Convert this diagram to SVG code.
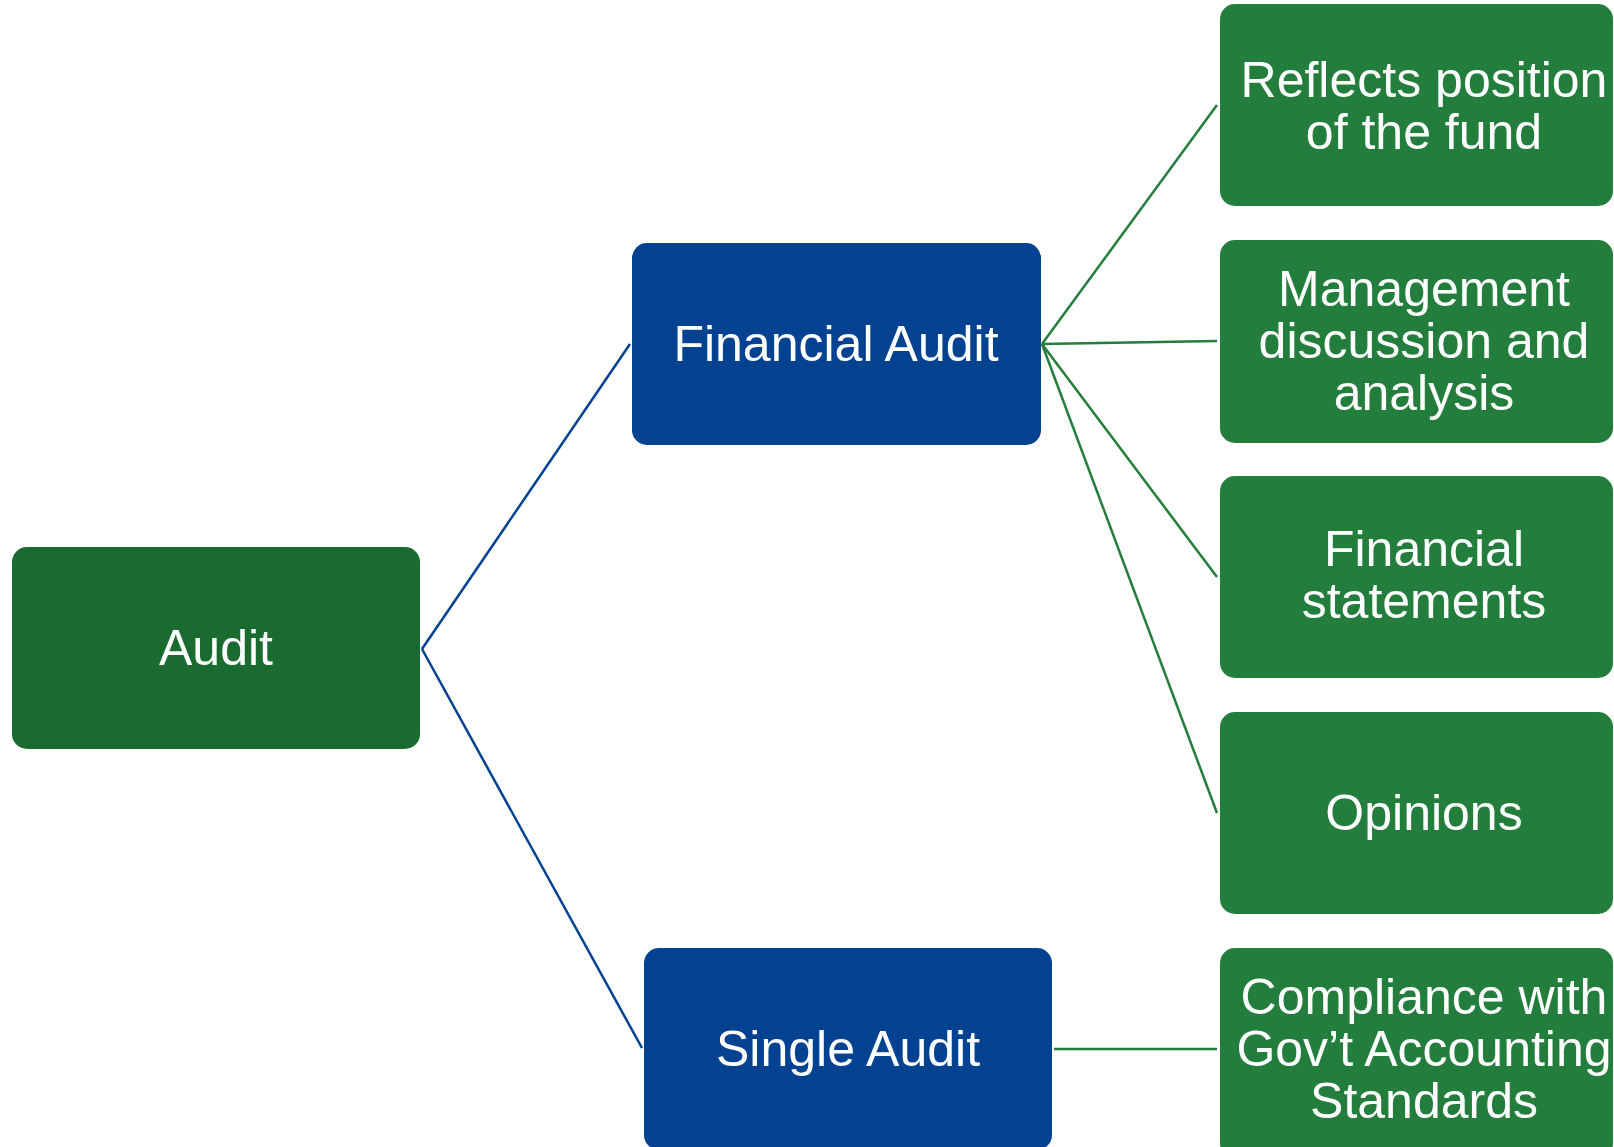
<svg xmlns="http://www.w3.org/2000/svg" width="1614" height="1147" viewBox="0 0 1614 1147">
<style>
.t{font-family:"Liberation Sans",Arial,sans-serif;font-size:50px;fill:#ffffff;text-anchor:middle}
.root{fill:#196b30}
.mid{fill:#034291}
.leaf{fill:#237d3c}
.cb{stroke:#034291;stroke-width:2.5;fill:none}
.cg{stroke:#237d3c;stroke-width:2.5;fill:none}
</style>
<rect width="1614" height="1147" fill="#ffffff"/>
<g id="connectors">
<line class="cb" x1="422" y1="649" x2="630" y2="344"/>
<line class="cb" x1="422" y1="649" x2="642" y2="1048"/>
<line class="cg" x1="1042" y1="344" x2="1217" y2="105"/>
<line class="cg" x1="1042" y1="344" x2="1217" y2="341"/>
<line class="cg" x1="1042" y1="344" x2="1217" y2="577"/>
<line class="cg" x1="1042" y1="344" x2="1217" y2="813"/>
<line class="cg" x1="1054" y1="1049" x2="1217" y2="1049"/>
</g>
<g id="audit">
<rect class="root" x="12" y="547" width="408" height="202" rx="15"/>
<text class="t" x="216" y="665">Audit</text>
</g>
<g id="financial-audit">
<rect class="mid" x="632" y="243" width="409" height="202" rx="15"/>
<text class="t" x="836" y="361">Financial Audit</text>
</g>
<g id="single-audit">
<rect class="mid" x="644" y="948" width="408" height="202" rx="15"/>
<text class="t" x="848" y="1066">Single Audit</text>
</g>
<g id="reflects-position">
<rect class="leaf" x="1220" y="4" width="393" height="202" rx="15"/>
<text class="t" x="1424" y="97">Reflects position</text>
<text class="t" x="1424" y="149">of the fund</text>
</g>
<g id="management-discussion">
<rect class="leaf" x="1220" y="240" width="393" height="203" rx="15"/>
<text class="t" x="1424" y="306">Management</text>
<text class="t" x="1424" y="358">discussion and</text>
<text class="t" x="1424" y="410">analysis</text>
</g>
<g id="financial-statements">
<rect class="leaf" x="1220" y="476" width="393" height="202" rx="15"/>
<text class="t" x="1424" y="566">Financial</text>
<text class="t" x="1424" y="618">statements</text>
</g>
<g id="opinions">
<rect class="leaf" x="1220" y="712" width="393" height="202" rx="15"/>
<text class="t" x="1424" y="830">Opinions</text>
</g>
<g id="compliance">
<rect class="leaf" x="1220" y="948" width="393" height="210" rx="15"/>
<text class="t" x="1424" y="1014">Compliance with</text>
<text class="t" x="1424" y="1066">Gov’t Accounting</text>
<text class="t" x="1424" y="1118">Standards</text>
</g>
</svg>
